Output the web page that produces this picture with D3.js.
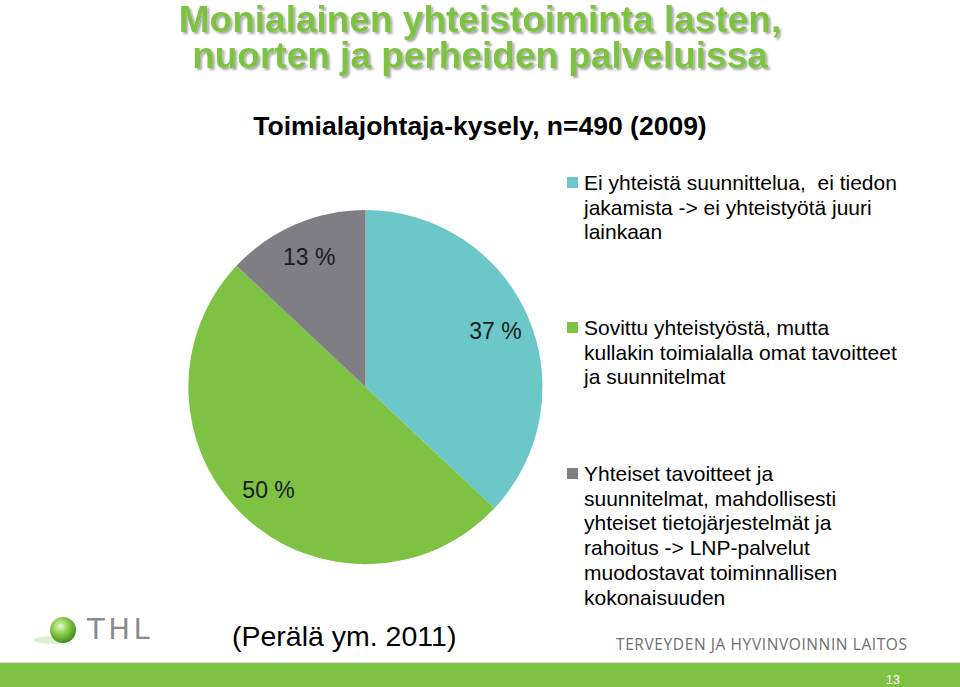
<!DOCTYPE html>
<html><head><meta charset="utf-8">
<script src="https://cdn.jsdelivr.net/npm/d3@7"></script>
<style>body{margin:0;background:#fff}svg{display:block}</style>
</head><body>
<svg id="c" width="960" height="687"></svg>
<script>
const categories = [
  "Ei yhteistä suunnittelua,  ei tiedon|jakamista -> ei yhteistyötä juuri|lainkaan",
  "Sovittu yhteistyöstä, mutta|kullakin toimialalla omat tavoitteet|ja suunnitelmat",
  "Yhteiset tavoitteet ja|suunnitelmat, mahdollisesti|yhteiset tietojärjestelmät ja|rahoitus -> LNP-palvelut|muodostavat toiminnallisen|kokonaisuuden"
];
const values = [37, 50, 13];
const valueLabels = ["37 %", "50 %", "13 %"];
const colors = ["#6cc8c8", "#7dc243", "#7f7e85"];

const svg = d3.select("#c");
const F = "Arial, 'Liberation Sans', sans-serif";

// Title with shadow
const titleLines = ["Monialainen yhteistoiminta lasten,", "nuorten ja perheiden palveluissa"];
const defs = svg.append("defs");
const flt = defs.append("filter").attr("id","sh").attr("x","-5%").attr("y","-20%").attr("width","110%").attr("height","150%");
flt.append("feDropShadow").attr("dx",2).attr("dy",2).attr("stdDeviation",1.2).attr("flood-color","#000").attr("flood-opacity",0.35);
const title = svg.append("text").attr("text-anchor","middle")
  .attr("font-family",F).attr("font-weight","bold").attr("font-size",37)
  .attr("fill","#7dc243").attr("filter","url(#sh)");
titleLines.forEach((t,i)=>{
  title.append("tspan").attr("x",480).attr("y",32+i*36).text(t);
});
svg.append("text").attr("x",480).attr("y",135).attr("text-anchor","middle")
  .attr("font-family",F).attr("font-weight","bold").attr("font-size",26.5)
  .attr("fill","#000").text("Toimialajohtaja-kysely, n=490 (2009)");

// Pie
const cx = 365.5, cy = 387, r = 177;
const pie = d3.pie().sort(null).value(d=>d);
const arc = d3.arc().innerRadius(0).outerRadius(r);
const arcs = pie(values);
const g = svg.append("g").attr("transform",`translate(${cx},${cy})`);
g.selectAll("path").data(arcs).join("path").attr("d",arc).attr("fill",(d,i)=>colors[i]);
const labelArc = d3.arc().innerRadius(r*0.8).outerRadius(r*0.8);
g.selectAll("text").data(arcs).join("text")
  .attr("transform",(d,i)=>{const c=labelArc.centroid(d);return `translate(${c[0]},${c[1]})`;})
  .attr("text-anchor","middle").attr("dy","0.35em")
  .attr("font-family",F).attr("font-size",23).attr("fill","#1a1a1a")
  .text((d,i)=>valueLabels[i]);

// Legend
const legendY = [190, 335, 481];
categories.forEach((c,i)=>{
  const lines = c.split("|");
  svg.append("rect").attr("x",567).attr("y",legendY[i]-13).attr("width",11).attr("height",11).attr("fill",colors[i]);
  const t = svg.append("text").attr("font-family",F).attr("font-size",21).attr("fill","#000");
  lines.forEach((l,j)=>{
    t.append("tspan").attr("x",584).attr("y",legendY[i]+j*(i==2?24.7:24.5)).attr("xml:space","preserve").text(l);
  });
});

// Source
svg.append("text").attr("x",232).attr("y",646).attr("font-family",F).attr("font-size",28.5).attr("fill","#000").text("(Perälä ym. 2011)");

// THL logo
const lg = defs.append("radialGradient").attr("id","ball").attr("cx","40%").attr("cy","35%").attr("r","65%");
lg.append("stop").attr("offset","0%").attr("stop-color","#e8f7d0");
lg.append("stop").attr("offset","45%").attr("stop-color","#8fd14f");
lg.append("stop").attr("offset","100%").attr("stop-color","#3f8f1f");
svg.append("ellipse").attr("cx",52).attr("cy",640).attr("rx",18).attr("ry",4).attr("fill","#cfe8b8").attr("opacity",0.7);
svg.append("circle").attr("cx",63).attr("cy",630).attr("r",13).attr("fill","url(#ball)");
svg.append("text").attr("x",87).attr("y",639).attr("font-family","'DejaVu Sans', Arial, sans-serif").attr("font-size",29).attr("letter-spacing",3.5).attr("fill","#8a8a8a").text("THL");

svg.append("text").attr("x",616).attr("y",650).attr("font-family","'Open Sans', Arial, sans-serif").attr("font-size",15.5).attr("letter-spacing",0.6).attr("fill","#6e6e6e").text("TERVEYDEN JA HYVINVOINNIN LAITOS");

// Bottom bar
svg.append("rect").attr("x",0).attr("y",662).attr("width",960).attr("height",1).attr("fill","#dcdcdc");
svg.append("rect").attr("x",0).attr("y",663).attr("width",960).attr("height",24).attr("fill","#7dc243");
svg.append("text").attr("x",893).attr("y",684).attr("text-anchor","middle").attr("font-family",F).attr("font-size",12.5).attr("fill","#fff").text("13");
</script>
</body></html>
